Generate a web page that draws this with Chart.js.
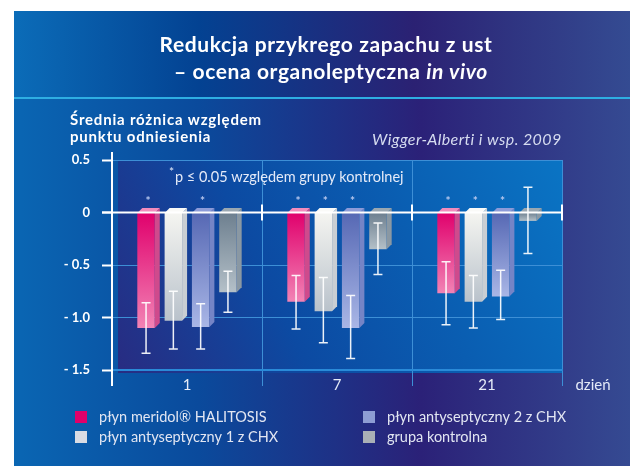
<!DOCTYPE html>
<html>
<head>
<meta charset="utf-8">
<script src="https://cdn.jsdelivr.net/npm/chart.js@4.4.1/dist/chart.umd.min.js"></script>
<style>
  html, body { margin: 0; padding: 0; background: #fff; }
  canvas { display: block; }
</style>
</head>
<body>
<canvas id="my-chart" width="630" height="466"></canvas>
<script>
const ctx = document.querySelector('#my-chart').getContext('2d')

//  Data

const days = ['1', '7', '21']
const seriesNames = ['płyn meridol® HALITOSIS', 'płyn antyseptyczny 1 z CHX', 'płyn antyseptyczny 2 z CHX', 'grupa kontrolna']

const meridol = [-1.10, -0.85, -0.77]
const chx1 = [-1.03, -0.94, -0.85]
const chx2 = [-1.09, -1.10, -0.80]
const control = [-0.76, -0.35, -0.08]

const meridolLow = [-1.34, -1.11, -1.07]
const meridolHigh = [-0.86, -0.60, -0.47]
const chx1Low = [-1.30, -1.24, -1.10]
const chx1High = [-0.75, -0.62, -0.60]
const chx2Low = [-1.30, -1.39, -1.02]
const chx2High = [-0.87, -0.79, -0.55]
const controlLow = [-0.95, -0.59, -0.39]
const controlHigh = [-0.56, -0.10, 0.24]

const meridolStar = [true, true, true]
const chx1Star = [false, true, true]
const chx2Star = [true, true, true]
const controlStar = [false, false, false]

const yMin = -1.5
const yMax = 0.5
const yStep = 0.5

const lows = [meridolLow, chx1Low, chx2Low, controlLow]
const highs = [meridolHigh, chx1High, chx2High, controlHigh]
const stars = [meridolStar, chx1Star, chx2Star, controlStar]

//  Colours: front top, front bottom, side, top face, legend swatch
const looks = [
    { top: '#e0006c', bottom: '#f283b5', side: '#cf4a8c', cap: '#f28cbc', swatch: '#e0006a' },
    { top: '#f5f5f1', bottom: '#b9c2cb', side: '#c9ced3', cap: '#fafaf8', swatch: '#d9dce4' },
    { top: '#5668b4', bottom: '#a9b6e6', side: '#7584c6', cap: '#8d9bd8', swatch: '#8d9dd4' },
    { top: '#6d7f8f', bottom: '#b4c0c8', side: '#8a98a3', cap: '#9aa7b1', swatch: '#a9b0b6' }
]

var frontFill = function(look){
    return function(c){
        const chart = c.chart
        if (!chart.chartArea || c.raw === undefined) return look.top
        const y = chart.scales.y
        const g = chart.ctx.createLinearGradient(0, y.getPixelForValue(0), 0, y.getPixelForValue(c.raw))
        g.addColorStop(0, look.top)
        g.addColorStop(1, look.bottom)
        return g
    }
}

const values = [meridol, chx1, chx2, control]
const data = {
    labels: days,
    datasets: values.map((v, i) => ({
        label: seriesNames[i],
        data: v,
        backgroundColor: frontFill(looks[i]),
        borderWidth: 0,
        categoryPercentage: 0.728,
        barPercentage: 0.64
    }))
}

const FONT = 'Lato, "Open Sans", sans-serif'

//  Backgrounds behind the chart

const backdrop = {
    id: 'backdrop',
    beforeDraw(chart){
        const c = chart.ctx
        const a = chart.chartArea
        c.save()
        c.fillStyle = '#ffffff'
        c.fillRect(0, 0, chart.width, chart.height)

        let g = c.createLinearGradient(14, 0, 630, 0)
        g.addColorStop(0, '#0a66b3')
        g.addColorStop(0.3, '#0a4a9c')
        g.addColorStop(0.66, '#2b2178')
        g.addColorStop(1, '#354a92')
        c.fillStyle = g
        c.fillRect(14, 11, 616, 455)

        g = c.createLinearGradient(14, 0, 630, 0)
        g.addColorStop(0, '#0b6cb8')
        g.addColorStop(0.3, '#034292')
        g.addColorStop(0.65, '#2b2173')
        g.addColorStop(1, '#344b92')
        c.fillStyle = g
        c.fillRect(14, 11, 616, 87)

        c.fillStyle = '#2eaee2'
        c.fillRect(14, 97, 616, 2)

        g = c.createLinearGradient(a.left + 6, a.bottom, a.right, a.top)
        g.addColorStop(0, '#282c82')
        g.addColorStop(0.35, '#0c4aa2')
        g.addColorStop(0.65, '#0a5db1')
        g.addColorStop(1, '#0a74c4')
        c.fillStyle = g
        c.fillRect(a.left + 6, a.top + 1, a.right - a.left - 6, a.bottom - a.top + 2)
        c.restore()
    }
}

//  3D faces, zero line, error bars and stars

const extras = {
    id: 'extras',
    afterDatasetsDraw(chart){
        const c = chart.ctx
        const y = chart.scales.y
        const a = chart.chartArea
        const y0 = y.getPixelForValue(0)
        const d = 5
        c.save()
        chart.data.datasets.forEach((ds, i) => {
            const look = looks[i]
            chart.getDatasetMeta(i).data.forEach(bar => {
                const l = bar.x - bar.width / 2
                const r = bar.x + bar.width / 2
                const top = Math.min(bar.y, bar.base)
                const bot = Math.max(bar.y, bar.base)
                c.fillStyle = look.side
                c.beginPath()
                c.moveTo(r, top); c.lineTo(r + d, top - d); c.lineTo(r + d, bot - d); c.lineTo(r, bot)
                c.closePath(); c.fill()
                c.fillStyle = look.cap
                c.beginPath()
                c.moveTo(l, top); c.lineTo(l + d, top - d); c.lineTo(r + d, top - d); c.lineTo(r, top)
                c.closePath(); c.fill()
            })
        })

        // zero line with ticks
        c.strokeStyle = '#ffffff'
        c.lineWidth = 2
        c.beginPath()
        c.moveTo(a.left - 10, y0); c.lineTo(a.right, y0)
        c.stroke()
        const x = chart.scales.x
        const step = x.getPixelForValue(1) - x.getPixelForValue(0)
        c.beginPath()
        for (let k = 0; k < days.length; k++){
            const px = x.getPixelForValue(k) + step / 2
            c.moveTo(px, y0 - 8); c.lineTo(px, y0 + 8)
        }
        c.moveTo(a.left, a.top - 8); c.lineTo(a.left, a.top)
        c.stroke()

        // error bars
        c.strokeStyle = 'rgba(255,255,255,0.92)'
        c.lineWidth = 1.5
        chart.data.datasets.forEach((ds, i) => {
            chart.getDatasetMeta(i).data.forEach((bar, j) => {
                const hi = y.getPixelForValue(highs[i][j])
                const lo = y.getPixelForValue(lows[i][j])
                c.beginPath()
                c.moveTo(bar.x, hi); c.lineTo(bar.x, lo)
                c.moveTo(bar.x - 4.5, hi); c.lineTo(bar.x + 4.5, hi)
                c.moveTo(bar.x - 4.5, lo); c.lineTo(bar.x + 4.5, lo)
                c.stroke()
            })
        })

        // significance stars
        c.fillStyle = '#b9c9ef'
        c.font = 'bold 12px ' + FONT
        c.textAlign = 'center'
        c.textBaseline = 'middle'
        chart.data.datasets.forEach((ds, i) => {
            chart.getDatasetMeta(i).data.forEach((bar, j) => {
                if (stars[i][j]) c.fillText('*', bar.x + 2, y0 - 11)
            })
        })
        c.restore()
    },
    afterDraw(chart){
        const c = chart.ctx
        c.save()
        c.fillStyle = '#ffffff'
        c.textBaseline = 'middle'

        // title
        c.letterSpacing = '0.6px'
        c.textAlign = 'center'
        c.font = 'bold 21px ' + FONT
        c.fillText('Redukcja przykrego zapachu z ust', 326, 45)
        const part1 = '– ocena organoleptyczna '
        const part2 = 'in vivo'
        const w1 = c.measureText(part1).width
        c.font = 'italic bold 21px ' + FONT
        const w2 = c.measureText(part2).width
        const sx = 331 - (w1 + w2) / 2
        c.textAlign = 'left'
        c.font = 'bold 21px ' + FONT
        c.fillText(part1, sx, 72)
        c.font = 'italic bold 21px ' + FONT
        c.fillText(part2, sx + w1, 72)

        // axis title
        c.letterSpacing = '0.8px'
        c.font = 'bold 15px ' + FONT
        c.fillText('Średnia różnica względem', 70, 120)
        c.fillText('punktu odniesienia', 70, 137)

        // source
        c.letterSpacing = '0.4px'
        c.fillStyle = '#d6dcf0'
        c.font = 'italic 16px ' + FONT
        c.fillText('Wigger-Alberti i wsp. 2009', 372, 140)

        // footnote
        c.letterSpacing = '0px'
        c.fillStyle = '#e4eaf8'
        c.font = '12px ' + FONT
        c.fillText('*', 169, 172)
        c.font = '14.5px ' + FONT
        c.fillText('p ≤ 0.05 względem grupy kontrolnej', 175, 177)

        // unit of x axis
        c.textAlign = 'center'
        c.font = '15px ' + FONT
        c.fillText('dzień', 593, 385)

        // legend
        c.textAlign = 'left'
        c.font = '14.5px ' + FONT
        const spots = [[75, 417], [75, 437], [363, 417], [363, 437]]
        chart.data.datasets.forEach((ds, i) => {
            const p = spots[i]
            c.fillStyle = looks[i].swatch
            c.fillRect(p[0], p[1] - 6, 12, 12)
            c.fillStyle = '#e2e6f2'
            c.fillText(ds.label, p[0] + 24, p[1])
        })
        c.restore()
    }
}

const config = {
    type: 'bar',
    data: data,
    options: {
        responsive: false,
        animation: false,
        layout: { padding: { top: 160, left: 12, right: 68, bottom: 56 } },
        plugins: { legend: { display: false }, tooltip: { enabled: false } },
        scales: {
            x: {
                afterFit: s => { s.height = 40 },
                grid: {
                    color: c => c.index === 0 ? '#ffffff' : '#3d8fd6',
                    tickColor: c => c.index === 0 ? '#ffffff' : '#3d8fd6',
                    tickLength: 16,
                    lineWidth: c => c.index === 0 ? 2 : 1
                },
                border: { color: '#2a8ad8', width: 2 },
                ticks: { color: '#e6ecf8', font: { family: FONT, size: 15 }, padding: -10 }
            },
            y: {
                min: yMin,
                max: yMax,
                afterFit: s => { s.width = 100 },
                grid: {
                    color: c => c.tick && c.tick.value === 0 ? 'rgba(0,0,0,0)' : '#3d8fd6',
                    tickColor: '#ffffff',
                    tickLength: 10,
                    lineWidth: 1,
                    tickWidth: 2
                },
                border: { color: '#ffffff', width: 2 },
                ticks: {
                    stepSize: yStep,
                    color: '#ffffff',
                    padding: 12,
                    font: { family: FONT, size: 13, weight: 'bold' },
                    callback: v => v === 0 ? '0' : (v > 0 ? v.toFixed(1) : '- ' + Math.abs(v).toFixed(1))
                }
            }
        }
    },
    plugins: [backdrop, extras]
}

const myChart = new Chart(ctx, config)
</script>
</body>
</html>
